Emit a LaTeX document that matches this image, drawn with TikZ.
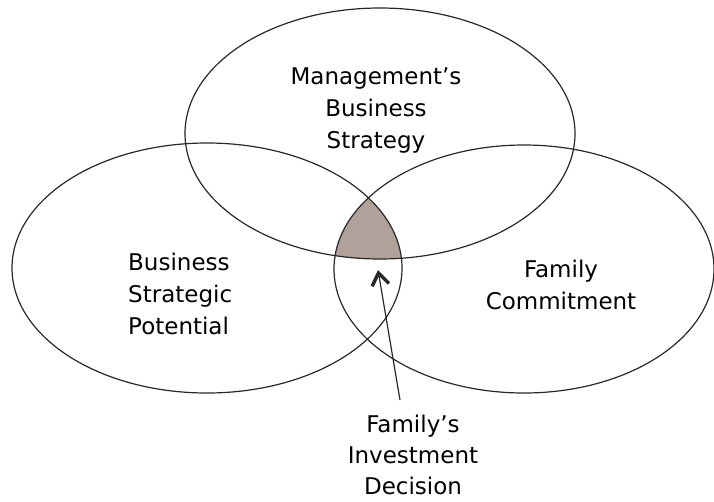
\documentclass[tikz,border=0pt]{standalone}
\usepackage{fontspec}
\setmainfont{DejaVu Sans}
\usetikzlibrary{arrows.meta}
\definecolor{venncol}{RGB}{176,162,155}
\definecolor{ink}{RGB}{40,40,40}
\tikzset{
  ring/.style={draw=ink, line width=1.2pt},
  lbl/.style={font=\fontsize{23}{32}\selectfont, inner sep=0pt, text=black},
  arr/.style={draw=ink, line width=1.2pt, -{Straight Barb[length=12pt,width=17pt,line width=3.5pt]}}
}
\begin{document}
\begin{tikzpicture}[x=1pt,y=-1pt]
\useasboundingbox (0,0) rectangle (714,501);
% shaded intersection
\begin{scope}
  \clip (380,133.5) ellipse [x radius=195, y radius=125.5];
  \clip (207,268) ellipse [x radius=195, y radius=125];
  \fill[venncol] (524,269) ellipse [x radius=190, y radius=124];
\end{scope}
\draw[ring] (380,133.5) ellipse [x radius=195, y radius=125.5];
\draw[ring] (207,268) ellipse [x radius=195, y radius=125];
\draw[ring] (524,269) ellipse [x radius=190, y radius=124];
\node[lbl, align=center, anchor=base] (mgmt) at (376,148) {Management’s\\Business\\Strategy};
\node[lbl, align=left, anchor=base west] (bsp) at (128,334) {Business\\Strategic\\Potential};
\node[lbl, align=center, anchor=base] (fam) at (561,309) {Family\\Commitment};
\node[lbl, align=center, anchor=base, font=\fontsize{23}{31}\selectfont] (dec) at (413,494) {Family’s\\Investment\\Decision};
\coordinate (tail) at (400,400);
\coordinate (tip) at (378,270);
\draw[arr] (tail) -- (tip);
\end{tikzpicture}
\end{document}
